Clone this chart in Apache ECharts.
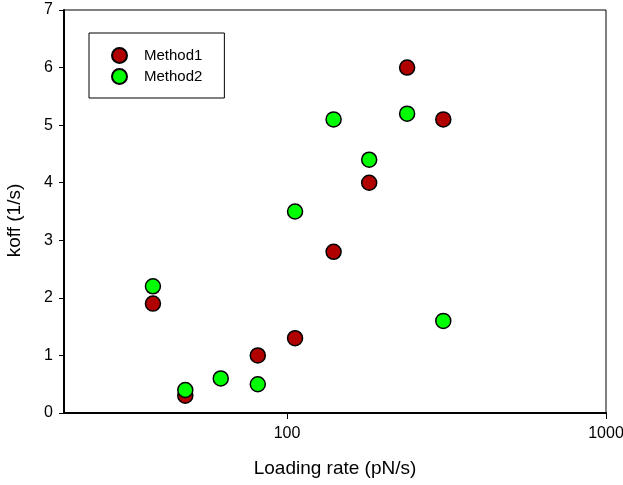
<!DOCTYPE html>
<html>
<head>
<meta charset="utf-8">
<script src="https://cdn.jsdelivr.net/npm/echarts@6/dist/echarts.min.js"></script>
<style>
  html, body { margin: 0; padding: 0; background: #fff; }
  #chart { width: 623px; height: 485px; }
</style>
</head>
<body>
<div id="chart"></div>
<script>
// loading rate (pN/s) and koff (1/s)
var method1Rate = [38, 48, 81, 106, 140, 181, 238, 309];
var method1Koff = [1.9, 0.3, 1.0, 1.3, 2.8, 4.0, 6.0, 5.1];
var method2Rate = [38, 48, 62, 81, 106, 140, 181, 238, 309];
var method2Koff = [2.2, 0.4, 0.6, 0.5, 3.5, 5.1, 4.4, 5.2, 1.6];
var xTicks = [100, 1000];
var legendNames = ["Method1", "Method2"];

function pairs(xs, ys) {
  return xs.map(function (x, i) { return [x, ys[i]]; });
}

var chart = echarts.init(document.getElementById("chart"));
var font = "Liberation Sans, Arial, sans-serif";

var option = {
  animation: false,
  backgroundColor: "#fff",
  grid: {
    left: 64,
    right: 17,
    top: 10,
    bottom: 72,
    outerBoundsMode: "none",
    containLabel: false,
    show: true,
    borderColor: "#000",
    borderWidth: 1
  },
  legend: {
    data: legendNames,
    orient: "vertical",
    left: 89,
    top: 33,
    padding: [14, 22, 13, 22],
    itemWidth: 15,
    itemHeight: 15,
    itemGap: 4,
    borderColor: "#000",
    borderWidth: 1,
    textStyle: { fontFamily: font, fontSize: 15, color: "#000", padding: [0, 0, 0, 12] }
  },
  xAxis: {
    type: "log",
    logBase: 10,
    min: 20,
    max: 1000,
    name: "Loading rate (pN/s)",
    nameLocation: "middle",
    nameGap: 46,
    nameTextStyle: { fontFamily: font, fontSize: 19, color: "#000" },
    axisLine: { lineStyle: { color: "#000", width: 2 } },
    axisTick: { show: true, length: 6, lineStyle: { color: "#000", width: 1 }, customValues: xTicks },
    axisLabel: {
      fontFamily: font, fontSize: 16, color: "#000", margin: 13,
      customValues: xTicks,
      formatter: function (v) { return String(Math.round(v)); }
    },
    splitLine: { show: false },
    minorTick: { show: false }
  },
  yAxis: {
    type: "value",
    min: 0,
    max: 7,
    interval: 1,
    name: "koff (1/s)",
    nameLocation: "middle",
    nameGap: 40,
    // ref title sits a bit below the plot's middle
    nameTextStyle: { fontFamily: font, fontSize: 19, color: "#000", padding: [0, 18, 0, 0] },
    axisLine: { show: true, lineStyle: { color: "#000", width: 2 } },
    axisTick: { show: true, length: 5, lineStyle: { color: "#000", width: 1 } },
    axisLabel: { fontFamily: font, fontSize: 16, color: "#000", margin: 11 },
    splitLine: { show: false }
  },
  series: [
    {
      name: legendNames[0],
      type: "scatter",
      symbol: "circle",
      symbolSize: 15,
      itemStyle: { color: "#B00000", borderColor: "#000", borderWidth: 1.5, opacity: 1 },
      data: pairs(method1Rate, method1Koff)
    },
    {
      name: legendNames[1],
      type: "scatter",
      symbol: "circle",
      symbolSize: 15,
      itemStyle: { color: "#00FF00", borderColor: "#000", borderWidth: 1.5, opacity: 1 },
      data: pairs(method2Rate, method2Koff)
    }
  ]
};

chart.setOption(option);
</script>
</body>
</html>
